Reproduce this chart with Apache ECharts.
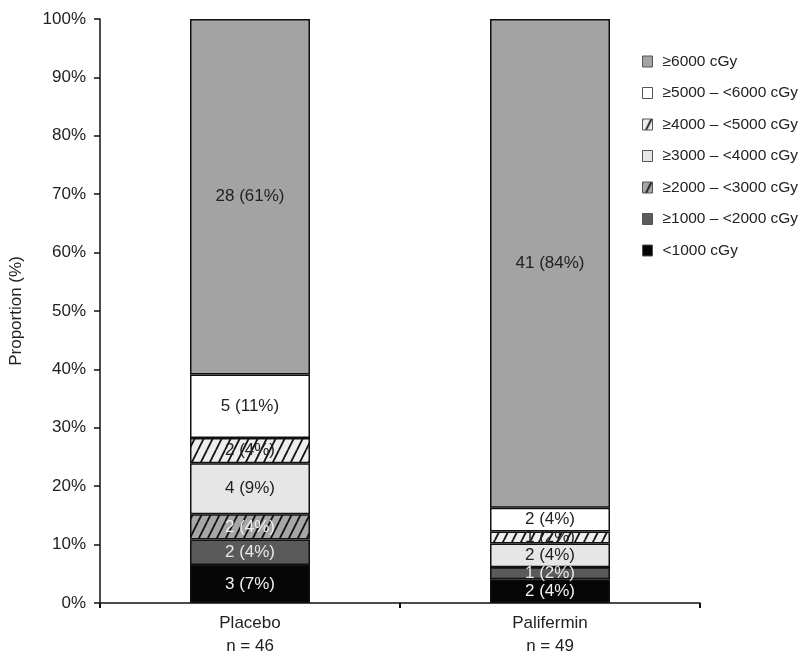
<!DOCTYPE html>
<html>
<head>
<meta charset="utf-8">
<script src="https://cdn.jsdelivr.net/npm/echarts@6/dist/echarts.min.js"></script>
<style>html,body{margin:0;padding:0;background:#fff}#c{width:800px;height:656px}</style>
</head>
<body>
<div id="c"></div>
<script>
// ---- data ----
const groups = ['Placebo', 'Palifermin'];
const groupN = [46, 49];
const doseBands = ['<1000 cGy', '\u22651000 \u2013 <2000 cGy', '\u22652000 \u2013 <3000 cGy', '\u22653000 \u2013 <4000 cGy', '\u22654000 \u2013 <5000 cGy', '\u22655000 \u2013 <6000 cGy', '\u22656000 cGy'];
const placeboCounts = [3, 2, 2, 4, 2, 5, 28];
const palifCounts = [2, 1, 0, 2, 1, 2, 41];
const yTicks = [0, 10, 20, 30, 40, 50, 60, 70, 80, 90, 100];

// ---- styles ----
function hatch(bg) {
  const c = document.createElement('canvas');
  c.width = 9; c.height = 18;
  const g = c.getContext('2d');
  g.fillStyle = bg; g.fillRect(0, 0, 9, 18);
  g.strokeStyle = '#111'; g.lineWidth = 1.8;
  for (const off of [-9, 0, 9]) {
    g.beginPath(); g.moveTo(off, 18); g.lineTo(off + 9, 0); g.stroke();
  }
  return { image: c, repeat: 'repeat' };
}
const fills = ['#050505', '#5a5a5a', hatch('#a6a6a6'), '#e6e6e6', hatch('#eeeeee'), '#ffffff', '#a3a3a3'];
const labelColors = ['#f0f0f0', '#e8e8e8', '#eeeeee', '#222', '#222', '#222', '#222'];
const counts = [placeboCounts, palifCounts];

const series = doseBands.map((name, i) => ({
  name,
  type: 'bar',
  stack: 'total',
  barWidth: 120,
  itemStyle: { color: fills[i], borderColor: '#111', borderWidth: 1.5 },
  label: {
    show: true,
    position: 'inside',
    fontFamily: 'Liberation Sans',
    fontSize: 17,
    color: labelColors[i],
    formatter: p => {
      const cnt = counts[p.dataIndex][i];
      if (!cnt) return '';
      return cnt + ' (' + Math.round(cnt / groupN[p.dataIndex] * 100) + '%)';
    }
  },
  emphasis: { disabled: true },
  data: counts.map((arr, g) => arr[i] / groupN[g] * 100)
}));

const chart = echarts.init(document.getElementById('c'), null, { renderer: 'canvas' });
chart.setOption({
  animation: false,
  textStyle: { fontFamily: 'Liberation Sans' },
  grid: { left: 100, right: 100, top: 19, bottom: 53, outerBoundsMode: 'none', containLabel: false },
  legend: {
    orient: 'vertical',
    left: 637,
    top: 48,
    icon: 'rect',
    itemWidth: 10,
    itemHeight: 11,
    itemGap: 14.5,
    selectedMode: false,
    data: doseBands.slice().reverse(),
    itemStyle: { borderColor: '#555', borderWidth: 1 },
    textStyle: { fontSize: 15.5, color: '#222', fontFamily: 'Liberation Sans', padding: [0, 0, 0, 5], lineHeight: 17 }
  },
  xAxis: {
    type: 'category',
    data: groups.map((g, k) => g + '\nn = ' + groupN[k]),
    axisLine: { lineStyle: { color: '#111', width: 1.5 } },
    axisTick: { show: true, length: 5, lineStyle: { color: '#111', width: 2 } },
    axisLabel: { fontSize: 17, color: '#222', lineHeight: 23, margin: 9, fontFamily: 'Liberation Sans' }
  },
  yAxis: {
    type: 'value',
    min: 0, max: 100, interval: 10,
    name: 'Proportion (%)',
    nameLocation: 'middle',
    nameGap: 75,
    nameTextStyle: { fontSize: 17, color: '#222', fontFamily: 'Liberation Sans' },
    splitLine: { show: false },
    axisLine: { show: true, lineStyle: { color: '#111', width: 1.5 } },
    axisTick: { show: true, length: 6, lineStyle: { color: '#111', width: 1.5 } },
    axisLabel: {
      fontSize: 17, color: '#222', margin: 14, fontFamily: 'Liberation Sans',
      formatter: v => yTicks.includes(v) ? v + '%' : ''
    }
  },
  series
});
</script>
</body>
</html>
